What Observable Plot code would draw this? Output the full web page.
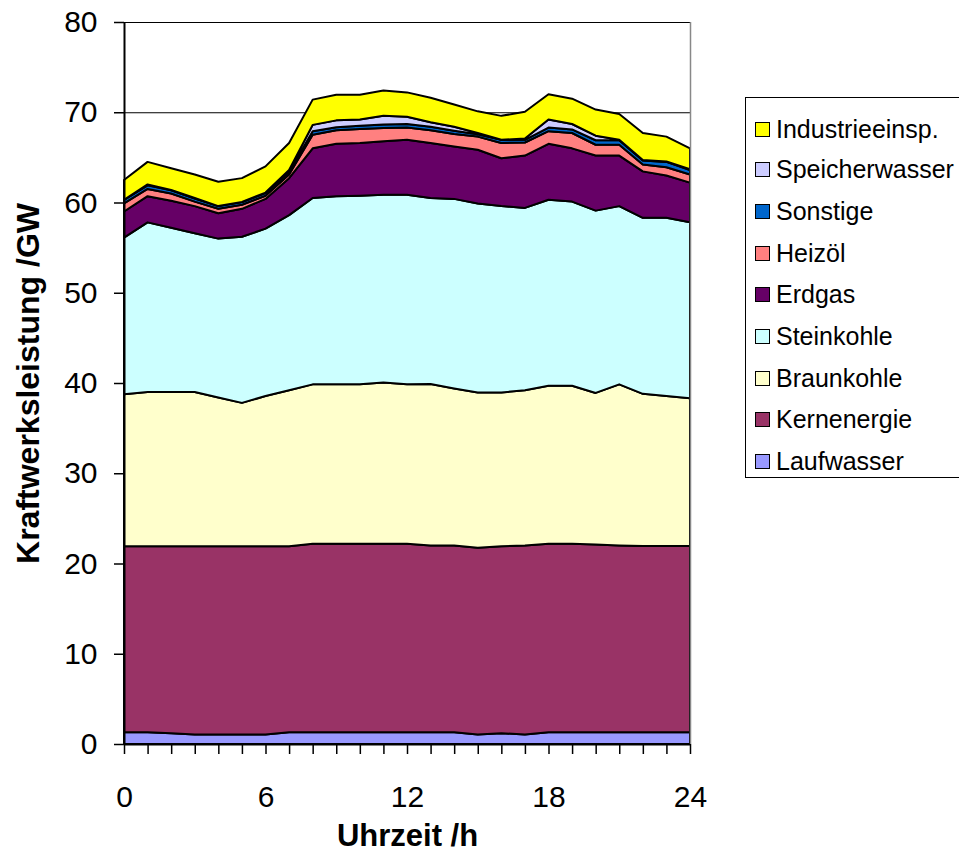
<!DOCTYPE html>
<html>
<head>
<meta charset="utf-8">
<script src="https://cdn.jsdelivr.net/npm/d3@7"></script>
<script src="https://cdn.jsdelivr.net/npm/@observablehq/plot@0.6"></script>
<style>
  html, body { margin: 0; padding: 0; background: #fff; overflow: hidden; }
  #wrap { position: relative; width: 959px; height: 858px; }
  #chart { position: absolute; left: 0; top: 0; }
  #legend {
    position: absolute; left: 745px; top: 97px; width: 240px; height: 381px;
    border: 1.5px solid #000; box-sizing: border-box; background: #fff;
    font-family: "Liberation Sans", Arial, sans-serif; font-size: 25px; color: #000;
  }
  .item { position: absolute; left: 9px; height: 30px; display: flex; align-items: center; }
  .sw { width: 15px; height: 15px; border: 1.5px solid #000; margin-right: 6px; box-sizing: border-box; }
</style>
</head>
<body>
<div id="wrap">
  <div id="chart"></div>
  <div id="legend"></div>
</div>
<script>
// Hour of day
const hours = [0,1,2,3,4,5,6,7,8,9,10,11,12,13,14,15,16,17,18,19,20,21,22,23,24];

// Power plant output per source, GW (stacked bottom to top)
const laufwasser     = [1.3,1.3,1.2,1.05,1.05,1.05,1.05,1.3,1.3,1.3,1.3,1.3,1.3,1.3,1.3,1.05,1.2,1.05,1.3,1.3,1.3,1.3,1.3,1.3,1.3];
const kernenergie    = [20.6,20.6,20.7,20.85,20.85,20.85,20.85,20.6,20.9,20.9,20.9,20.9,20.9,20.7,20.7,20.7,20.7,20.95,20.9,20.9,20.8,20.7,20.65,20.65,20.65];
const braunkohle     = [16.85,17.1,17.1,17.1,16.5,15.9,16.65,17.3,17.65,17.65,17.65,17.85,17.65,17.9,17.4,17.2,17.05,17.2,17.5,17.5,16.8,17.85,16.85,16.6,16.35];
const steinkohle     = [17.35,18.8,18.2,17.6,17.6,18.4,18.55,19.4,20.65,20.85,20.9,20.8,21.0,20.6,21.0,20.95,20.65,20.2,20.6,20.4,20.2,19.75,19.5,19.75,19.5];
const erdgas         = [2.9,2.9,3.0,3.0,2.8,3.1,3.3,4.1,5.5,5.8,5.85,5.95,6.1,6.1,5.8,5.95,5.3,5.8,6.2,5.9,6.1,5.6,5.15,4.7,4.4];
const heizoel        = [0.9,0.8,0.8,0.5,0.5,0.45,0.35,0.4,1.5,1.5,1.55,1.45,1.35,1.4,1.4,1.45,1.7,1.45,1.4,1.7,1.2,1.2,0.75,0.9,0.9];
const sonstige       = [0.4,0.4,0.35,0.35,0.3,0.3,0.3,0.3,0.4,0.35,0.35,0.4,0.4,0.4,0.35,0.25,0.35,0.3,0.4,0.4,0.5,0.5,0.45,0.6,0.5];
const speicherwasser = [0,0.1,0.05,0.05,0,0,0.05,0.2,0.7,0.75,0.7,0.95,0.8,0.5,0.45,0.15,0,0.15,0.9,0.6,0.5,0.05,0.05,0.05,0.1];
const industrie      = [2.2,2.5,2.4,2.6,2.7,2.65,2.9,3.0,2.8,2.85,2.75,2.8,2.7,2.7,2.45,2.4,2.65,2.95,2.8,2.8,2.9,2.85,3.0,2.75,2.3];

// Source names (stack order, bottom first) and their fills
const sources = ["Laufwasser","Kernenergie","Braunkohle","Steinkohle","Erdgas","Heizöl","Sonstige","Speicherwasser","Industrieeinsp."];
const colors  = ["#9999FF","#993366","#FFFFCC","#CCFFFF","#660066","#FF8080","#0066CC","#CCCCFF","#FFFF00"];
const seriesValues = [laufwasser,kernenergie,braunkohle,steinkohle,erdgas,heizoel,sonstige,speicherwasser,industrie];

// Axis ticks
const yTicks = [0,10,20,30,40,50,60,70,80];
const xLabels = [0,6,12,18,24];

const rows = [];
sources.forEach((s, i) => {
  hours.forEach((h, j) => rows.push({source: s, hour: h, value: seriesValues[i][j]}));
});

const font = "'Liberation Sans', Arial, sans-serif";

const chart = Plot.plot({
  width: 959,
  height: 858,
  marginLeft: 124,
  marginRight: 269,
  marginTop: 22,
  marginBottom: 114,
  style: {fontFamily: font, fontSize: "30px", color: "#000", background: "#fff"},
  x: {domain: [0, 24]},
  y: {domain: [0, 80]},
  color: {domain: sources, range: colors},
  marks: [
    Plot.ruleY(yTicks.filter(d => d > 0), {stroke: "#000", strokeWidth: 1}),
    Plot.areaY(rows, {
      x: "hour", y: "value", z: "source", fill: "source",
      order: sources, stroke: "#000", strokeWidth: 2, strokeLinejoin: "round"
    }),
    Plot.ruleX([24], {stroke: "#888", strokeWidth: 1.5}),
    Plot.ruleY([0], {stroke: "#000", strokeWidth: 2}),
    Plot.ruleX([0], {stroke: "#000", strokeWidth: 2}),
    Plot.axisY({ticks: yTicks, tickSize: 10, tickPadding: 17, label: null, fontSize: 30, strokeWidth: 1.5}),
    Plot.axisX({ticks: hours, tickSize: 10, tickPadding: 31, label: null, fontSize: 30, strokeWidth: 1.5,
      tickFormat: d => xLabels.includes(d) ? String(d) : ""}),
    Plot.text(["Kraftwerksleistung /GW"], {
      frameAnchor: "left", textAnchor: "middle", lineAnchor: "middle", dx: -96, rotate: -90,
      fontSize: 32, fontWeight: "bold", fill: "#000"
    }),
    Plot.text(["Uhrzeit /h"], {
      frameAnchor: "bottom", textAnchor: "middle", lineAnchor: "middle", dy: 92,
      fontSize: 31, fontWeight: "bold", fill: "#000"
    })
  ]
});
document.getElementById("chart").appendChild(chart);

// Legend: top entry is the top of the stack
const legend = document.getElementById("legend");
const rowTops = [128,168,210,252,293,335,377,418,460];
sources.slice().reverse().forEach((s, k) => {
  const idx = sources.indexOf(s);
  const item = document.createElement("div");
  item.className = "item";
  item.style.top = (rowTops[k] - 97 - 15) + "px";
  const sw = document.createElement("div");
  sw.className = "sw";
  sw.style.background = colors[idx];
  const label = document.createElement("span");
  label.textContent = s;
  item.appendChild(sw);
  item.appendChild(label);
  legend.appendChild(item);
});
</script>
</body>
</html>
